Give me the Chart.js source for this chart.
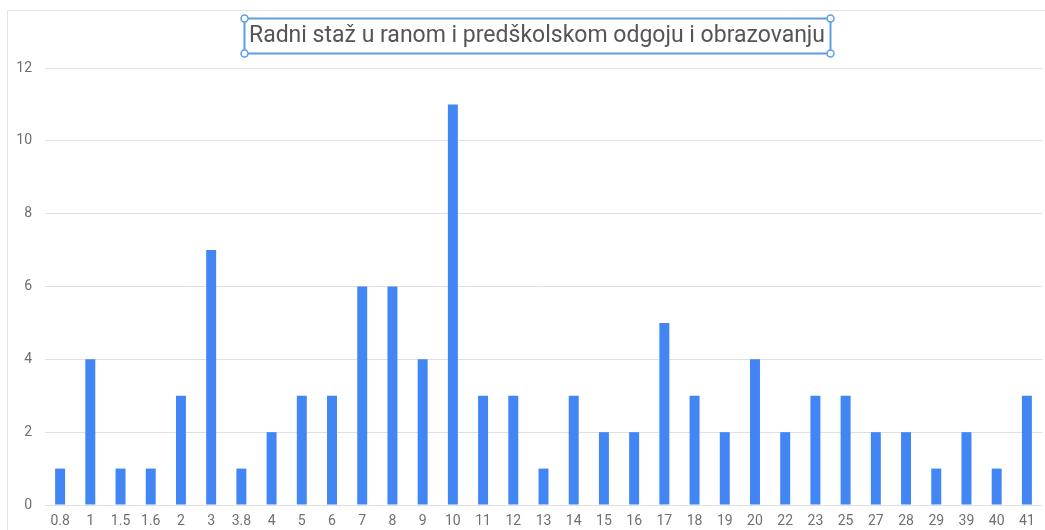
<!DOCTYPE html>
<html>
<head>
<meta charset="utf-8">
<script src="https://cdn.jsdelivr.net/npm/chart.js@4"></script>
<style>
  html, body { margin: 0; padding: 0; background: #fff; }
  #wrap { width: 1045px; height: 530px; position: relative; }
</style>
</head>
<body>
<div id="wrap"><canvas id="myChart"></canvas></div>
<script>
const naslov = 'Radni staž u ranom i predškolskom odgoju i obrazovanju';
const godine = ['0.8', '1', '1.5', '1.6', '2', '3', '3.8', '4', '5', '6', '7', '8', '9', '10', '11', '12', '13', '14', '15', '16', '17', '18', '19', '20', '22', '23', '25', '27', '28', '29', '39', '40', '41'];
const broj = [1, 4, 1, 1, 3, 7, 1, 2, 3, 3, 6, 6, 4, 11, 3, 3, 1, 3, 2, 2, 5, 3, 2, 4, 2, 3, 3, 2, 2, 1, 2, 1, 3];
const yTicks = [0, 2, 4, 6, 8, 10, 12];

const fontFam = 'Roboto, Arial, sans-serif';

// okvir grafikona i oznaceni naslov (kao u uredivacu)
const okvir = {
  id: 'okvir',
  beforeDraw(chart) {
    const c = chart.ctx;
    c.save();
    c.strokeStyle = '#e3e3e3';
    c.lineWidth = 1;
    c.beginPath();
    c.moveTo(7, 10.5); c.lineTo(chart.width, 10.5);
    c.moveTo(7.5, 10); c.lineTo(7.5, chart.height);
    c.stroke();
    c.restore();
  },
  afterDraw(chart) {
    const c = chart.ctx;
    const cx = 537, cy = 36;
    c.save();
    c.font = '23px ' + fontFam;
    c.fillStyle = '#555555';
    c.textAlign = 'center';
    c.textBaseline = 'middle';
    c.fillText(naslov, cx, cy);
    const w = c.measureText(naslov).width;
    const x1 = Math.round(cx - w / 2 - 5) + 0.5, x2 = Math.round(cx + w / 2 + 5) + 0.5;
    const y1 = 18.5, y2 = 53.5;
    c.strokeStyle = '#5c9ee6';
    c.lineWidth = 2;
    c.strokeRect(x1, y1, x2 - x1, y2 - y1);
    c.lineWidth = 1.5;
    c.fillStyle = '#fff';
    [[x1, y1], [x2, y1], [x1, y2], [x2, y2]].forEach(([x, y]) => {
      c.beginPath();
      c.arc(x, y, 3.5, 0, Math.PI * 2);
      c.fill();
      c.stroke();
    });
    c.restore();
  }
};

const ctx = document.getElementById('myChart');
new Chart(ctx, {
  type: 'bar',
  data: {
    labels: godine,
    datasets: [{
      data: broj,
      backgroundColor: '#4285f4',
      barPercentage: 1,
      categoryPercentage: 0.33
    }]
  },
  options: {
    responsive: true,
    maintainAspectRatio: false,
    animation: false,
    layout: { padding: { left: 0, right: 3, top: 68, bottom: 0 } },
    plugins: {
      legend: { display: false },
      tooltip: { enabled: false },
      title: { display: false }
    },
    scales: {
      x: {
        grid: { display: false, drawTicks: false },
        border: { display: false },
        ticks: {
          color: '#6f6f6f',
          font: { family: fontFam, size: 14 },
          padding: 8,
          maxRotation: 0,
          autoSkip: false
        },
        afterFit(scale) { scale.height = 25; }
      },
      y: {
        min: 0,
        max: 12,
        afterBuildTicks(scale) { scale.ticks = yTicks.map(v => ({ value: v })); },
        grid: { color: '#e0e0e0', drawTicks: false },
        border: { display: false },
        ticks: {
          color: '#6f6f6f',
          font: { family: fontFam, size: 14 },
          padding: 13
        },
        afterFit(scale) { scale.width = 45; }
      }
    }
  },
  plugins: [okvir]
});
</script>
</body>
</html>
